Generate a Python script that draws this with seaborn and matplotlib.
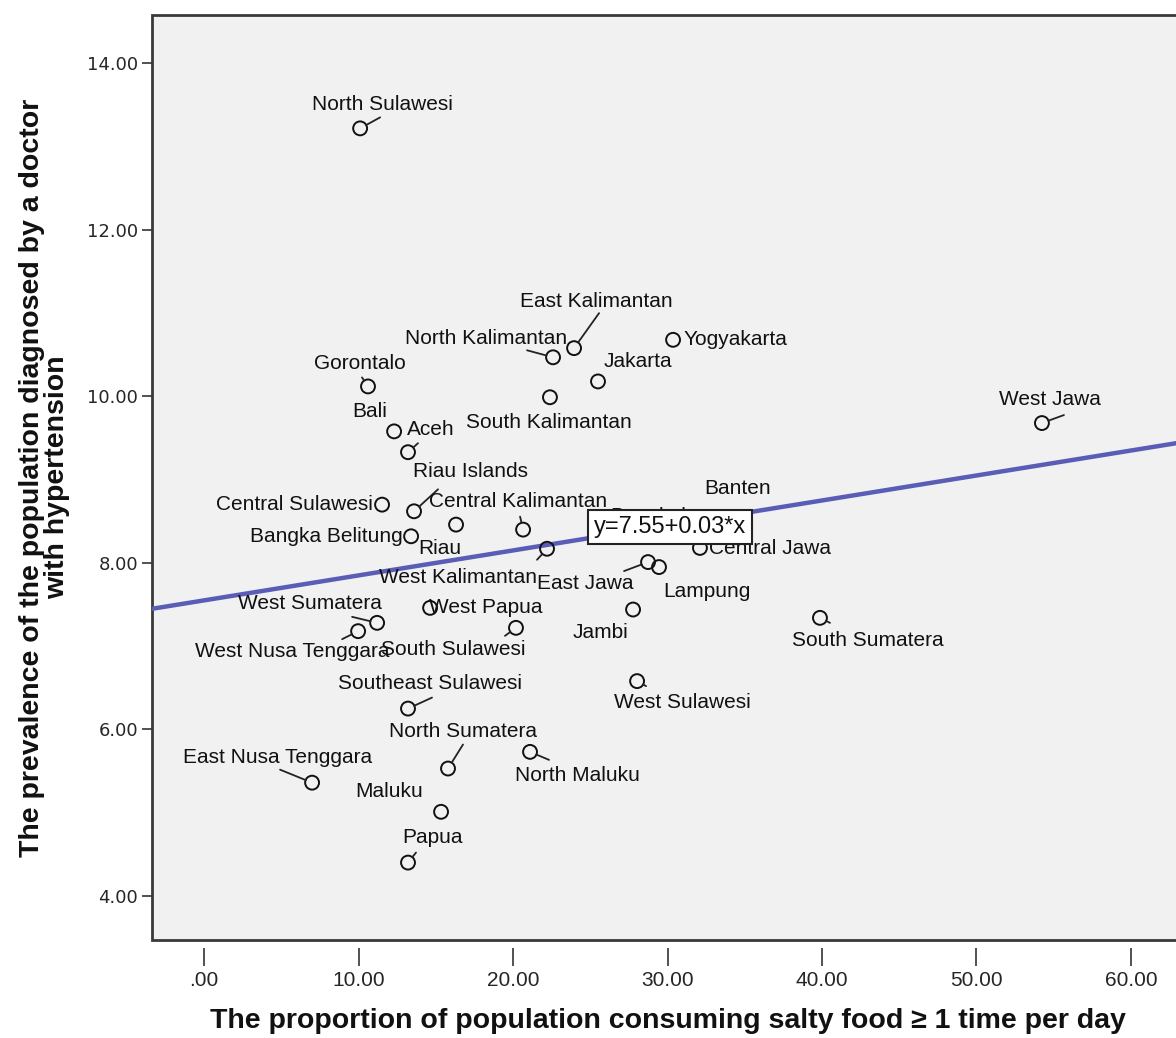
import numpy as np
import pandas as pd
import matplotlib
matplotlib.use("Agg")
import matplotlib.pyplot as plt
import seaborn as sns

sns.set_style("ticks")
plt.rcParams['font.family'] = ['Liberation Sans', 'DejaVu Sans']

# data
provinces = ['North Sulawesi', 'East Kalimantan', 'North Kalimantan', 'Yogyakarta', 'Gorontalo',
             'Jakarta', 'South Kalimantan', 'Bali', 'Aceh', 'West Jawa',
             'Riau Islands', 'Central Sulawesi', 'Central Kalimantan', 'Riau', 'Bangka Belitung',
             'West Kalimantan', 'East Jawa', 'Lampung', 'Central Jawa', 'West Sumatera',
             'West Nusa Tenggara', 'West Papua', 'South Sulawesi', 'Jambi', 'South Sumatera',
             'West Sulawesi', 'Southeast Sulawesi', 'North Sumatera', 'East Nusa Tenggara', 'North Maluku',
             'Maluku', 'Papua', 'Banten', 'Bengkulu']
salty = [10.10, 23.95, 22.59, 30.36, 10.61,
         25.50, 22.39, 12.30, 13.20, 54.24,
         13.59, 11.52, 20.65, 16.31, 13.40,
         22.20, 28.74, 29.45, 32.10, 11.20,
         9.97, 14.63, 20.19, 27.77, 39.87,
         28.03, 13.20, 15.79, 6.99, 21.10,
         15.34, 13.20, 33.60, 28.20]
hypertension = [13.22, 10.58, 10.47, 10.68, 10.12,
                10.18, 9.99, 9.58, 9.33, 9.68,
                8.62, 8.70, 8.40, 8.46, 8.32,
                8.17, 8.01, 7.95, 8.18, 7.28,
                7.18, 7.46, 7.22, 7.44, 7.34,
                6.58, 6.25, 5.53, 5.36, 5.73,
                5.01, 4.40, 8.48, 8.44]
intercept = 7.55
slope = 0.03

df = pd.DataFrame({'province': provinces, 'salty': salty, 'hyp': hypertension})

# label placement (pixel offsets of the label centre, and of leader end)
label_off = {
    'North Sulawesi': (22, 24), 'East Kalimantan': (22, 47), 'North Kalimantan': (-67, 19),
    'Yogyakarta': (62, 0), 'Gorontalo': (-8, 23), 'Jakarta': (40, 20), 'South Kalimantan': (-1, -25),
    'Bali': (-24, 20), 'Aceh': (23, 23), 'West Jawa': (8, 24), 'Riau Islands': (56, 40),
    'Central Sulawesi': (-88, 0), 'Central Kalimantan': (-5, 28), 'Riau': (-16, -24),
    'Bangka Belitung': (-85, 0), 'West Kalimantan': (-89, -29), 'East Jawa': (-63, -21),
    'Lampung': (48, -24), 'Central Jawa': (70, -1), 'West Sumatera': (-67, 19),
    'West Nusa Tenggara': (-66, -20), 'West Papua': (56, 0), 'South Sulawesi': (-63, -22),
    'Jambi': (-33, -23), 'South Sumatera': (48, -23), 'West Sulawesi': (45, -21),
    'Southeast Sulawesi': (22, 25), 'North Sumatera': (15, 37), 'East Nusa Tenggara': (-35, 25),
    'North Maluku': (47, -24), 'Maluku': (-52, 20), 'Papua': (24, 25),
    'Banten': (14, 34), 'Bengkulu': (14, 10)}
leader_end = {
    'North Sulawesi': (20, 11), 'East Kalimantan': (25, 35), 'North Kalimantan': (-26, 7),
    'Gorontalo': (-6, 9), 'Aceh': (10, 9), 'West Jawa': (22, 8), 'Riau Islands': (24, 22),
    'Central Kalimantan': (-3, 13), 'West Kalimantan': (-10, -11), 'East Jawa': (-24, -9),
    'West Sumatera': (-25, 6), 'West Nusa Tenggara': (-16, -8), 'South Sulawesi': (-11, -8),
    'South Sumatera': (10, -5), 'West Sulawesi': (9, -5), 'Southeast Sulawesi': (24, 11),
    'North Sumatera': (15, 24), 'East Nusa Tenggara': (-32, 13), 'North Maluku': (19, -8),
    'Papua': (8, 10)}

fig = plt.figure(figsize=(11.76, 10.38), dpi=100)
ax = fig.add_axes([0.1293, 0.0944, 0.8757, 0.891])
ax.set_facecolor('#F0F1F0')

# frame drawn by the axes patch, x axis pushed a little below it
for sp in ax.spines.values():
    sp.set_visible(False)
ax.spines['bottom'].set_position(('outward', 6))
ax.patch.set_edgecolor('#3A3A3A')
ax.patch.set_linewidth(2)

xmin, xmax = -3.37, 63.3
ymin, ymax = 3.47, 14.58

# fit line
xl = np.array([xmin, xmax])
ax.plot(xl, intercept + slope * xl, color='#5A5DB6', lw=3.2, zorder=2)

sns.scatterplot(data=df, x='salty', y='hyp', ax=ax, s=100, facecolor='none',
                edgecolor='#111111', linewidth=1.4, zorder=3)

for _, r in df.iterrows():
    name = r['province']
    dx, dy = label_off[name]
    ax.annotate(name, (r['salty'], r['hyp']), xytext=(dx, dy), textcoords='offset pixels',
                ha='center', va='center', fontsize=15, color='#111111', zorder=3)
    if name in leader_end:
        ex, ey = leader_end[name]
        ax.annotate('', xy=(r['salty'], r['hyp']), xytext=(ex, ey), textcoords='offset pixels',
                    arrowprops=dict(arrowstyle='-', color='#222222', lw=1.3,
                                    shrinkA=0, shrinkB=5), zorder=3)

ax.text(0.5697, 0.4923, 'y=7.55+0.03*x', transform=fig.transFigure, ha='center', va='center',
        fontsize=17, color='#111111', zorder=10,
        bbox=dict(boxstyle='square,pad=0.25', facecolor='white', edgecolor='#222222', lw=1.5))

ax.set_xlim(xmin, xmax)
ax.set_ylim(ymin, ymax)
ax.set_xticks(np.arange(0, 61, 10))
ax.set_xticklabels(['.00', '10.00', '20.00', '30.00', '40.00', '50.00', '60.00'], fontsize=15)
ax.set_yticks(np.arange(4, 15, 2))
ax.set_yticklabels(['4.00', '6.00', '8.00', '10.00', '12.00', '14.00'],
                   family='DejaVu Sans', fontsize=13)
ax.tick_params(axis='x', direction='out', length=13, width=1.2, color='#333333', pad=3)
ax.tick_params(axis='y', direction='out', length=7, width=1.2, color='#333333', pad=3)

ax.set_xlabel('')
fig.text(0.568, 0.0164, 'The proportion of population consuming salty food \u2265 1 time per day',
         ha='center', va='center', fontweight='bold', fontsize=20.5, color='#111111')
ax.set_ylabel('The prevalence of the population diagnosed by a doctor\nwith hypertension',
              fontweight='bold', fontsize=20.5, labelpad=12, linespacing=0.95, color='#111111')

fig.savefig('out.png', dpi=100)
